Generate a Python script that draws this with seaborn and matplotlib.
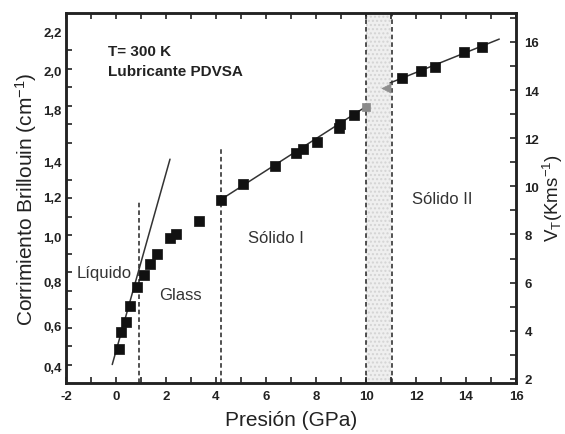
import numpy as np
import pandas as pd
import matplotlib
matplotlib.use('Agg')
import matplotlib.pyplot as plt
import seaborn as sns
from matplotlib.ticker import MultipleLocator

# Datos: presion (GPa) y corrimiento Brillouin (cm-1)
p_liq = [0.12, 0.22, 0.39, 0.56, 0.86]
b_liq = [0.484, 0.576, 0.628, 0.714, 0.817]

p_glass = [1.11, 1.36, 1.63, 2.18, 2.39, 3.32]
b_glass = [0.884, 0.943, 0.997, 1.082, 1.105, 1.177]

p_sol1 = [4.19, 5.07, 6.36, 7.19, 7.47, 8.03, 8.93, 8.96, 9.53]
b_sol1 = [1.291, 1.374, 1.475, 1.543, 1.565, 1.604, 1.677, 1.702, 1.750]

p_sol2 = [11.45, 12.19, 12.77, 13.93, 14.64]
b_sol2 = [1.949, 1.986, 2.008, 2.088, 2.118]

# puntos grises en la zona de transicion
p_trans_sq = [9.99]
b_trans_sq = [1.794]
p_trans_tri = [10.8]
b_trans_tri = [1.893]

# rectas de ajuste (extremos)
fit_liq_p = [-0.15, 2.16]
fit_liq_b = [0.40, 1.51]
fit_sol1_p = [4.19, 10.0]
fit_sol1_b = [1.291, 1.794]
fit_sol2_p = [10.96, 15.33]
fit_sol2_b = [1.922, 2.159]

# etiquetas del eje izquierdo tal como aparecen en la figura
left_tick_labels = ['2,2', '2,0', '1,8', '1,4', '1,2', '1,0', '0,8', '0,6', '0,4']
left_tick_pos = [2.2, 1.99, 1.78, 1.50, 1.31, 1.09, 0.85, 0.61, 0.39]
right_ticks = [2, 4, 6, 8, 10, 12, 14, 16]

sns.set_style('ticks')
plt.rcParams['font.family'] = ['Liberation Sans', 'DejaVu Sans']
plt.rcParams['axes.unicode_minus'] = False
plt.rcParams['mathtext.fontset'] = 'custom'
plt.rcParams['mathtext.rm'] = 'Liberation Sans'
plt.rcParams['mathtext.it'] = 'Liberation Sans'
plt.rcParams['mathtext.default'] = 'regular'

fig = plt.figure(figsize=(5.65, 4.35), dpi=100)
ax = fig.add_axes([0.1168, 0.1172, 0.7965, 0.8506])

# zona sombreada entre 10 y 11 GPa
ax.axvspan(10, 11, facecolor='#efefef', edgecolor='#d4d4d4', hatch='....', linewidth=0, zorder=0)

# lineas verticales discontinuas
dash = dict(color='#222222', linestyle=(0, (3, 2)), linewidth=1.1, zorder=1)
ax.plot([0.93, 0.93], [0.3, 1.28], **dash)
ax.plot([4.2, 4.2], [0.3, 1.57], **dash)
ax.axvline(10.0, **dash)
ax.axvline(11.03, **dash)

# rectas de ajuste
for xs, ys in [(fit_liq_p, fit_liq_b), (fit_sol1_p, fit_sol1_b), (fit_sol2_p, fit_sol2_b)]:
    sns.lineplot(x=xs, y=ys, ax=ax, color='#333333', linewidth=1.1, zorder=2)

negros = pd.DataFrame({
    'p': p_liq + p_glass + p_sol1 + p_sol2,
    'b': b_liq + b_glass + b_sol1 + b_sol2,
})
sns.scatterplot(data=negros, x='p', y='b', ax=ax, marker='s', s=55, color='#111111',
                edgecolor='#111111', linewidth=0.5, zorder=3)
sns.scatterplot(x=p_trans_sq, y=b_trans_sq, ax=ax, marker='s', s=38, color='#8a8a8a',
                edgecolor='#8a8a8a', zorder=3)
sns.scatterplot(x=p_trans_tri, y=b_trans_tri, ax=ax, marker='<', s=42, color='#8f8f8f',
                edgecolor='#8f8f8f', zorder=3)

ax.set_xlim(-2, 16)
ax.set_ylim(0.3, 2.3)
ax.xaxis.set_major_locator(MultipleLocator(2))
ax.xaxis.set_minor_locator(MultipleLocator(1))
ax.set_yticks(left_tick_pos, left_tick_labels)
ax.set_yticks(np.arange(0.4, 2.25, 0.1), minor=True)

for s in ax.spines.values():
    s.set_linewidth(1.8)
    s.set_color('#222222')

ax.tick_params(axis='x', which='both', direction='in', top=True, length=4, width=1.2,
               color='#222222', labelsize=9.5, pad=5)
ax.tick_params(axis='y', which='major', length=0, labelsize=9.5, pad=3)
ax.tick_params(axis='y', which='minor', direction='in', length=4, width=1.2, color='#222222')
for lab in ax.get_xticklabels() + ax.get_yticklabels():
    lab.set_fontweight('bold')
    lab.set_color('#222222')

ax.set_xlabel('Presión (GPa)', fontsize=15, color='#222222', labelpad=6)
ax.set_ylabel('Corrimiento Brillouin (cm$^{-1}$)', fontsize=15, color='#222222', labelpad=3)

# eje derecho: velocidad transversal
ax2 = ax.twinx()
ax2.set_ylim(1.83, 17.2)
ax2.set_yticks(right_ticks)
ax2.yaxis.set_minor_locator(MultipleLocator(1))
ax2.tick_params(axis='y', which='both', direction='in', length=4, width=1.2,
                color='#222222', labelsize=9.5, pad=6)
for lab in ax2.get_yticklabels():
    lab.set_fontweight('bold')
    lab.set_color('#222222')
for s in ax2.spines.values():
    s.set_linewidth(1.8)
    s.set_color('#222222')
fig.text(0.978, 0.545, 'V$_T$(Kms$^{-1}$)', fontsize=13.5, color='#222222',
         rotation=90, ha='center', va='center')

# textos dentro del grafico
ax.text(-0.32, 2.095, 'T= 300 K', fontsize=11, fontweight='bold', color='#222222', va='center')
ax.text(-0.32, 1.986, 'Lubricante PDVSA', fontsize=11, fontweight='bold', color='#222222', va='center')
ax.text(-1.56, 0.895, 'Líquido', fontsize=12, color='#333333', va='center')
ax.text(1.72, 0.781, 'Glass', fontsize=12, color='#333333', va='center')
ax.text(5.28, 1.084, 'Sólido I', fontsize=12, color='#333333', va='center')
ax.text(11.83, 1.295, 'Sólido II', fontsize=12, color='#333333', va='center')

fig.savefig('out.png', dpi=100)
